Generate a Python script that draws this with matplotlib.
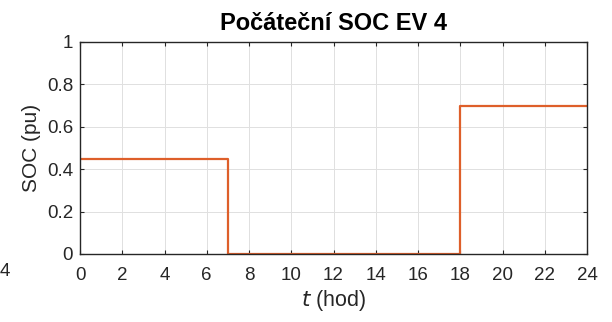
import matplotlib
matplotlib.use("Agg")
from matplotlib import pyplot as plt

# Data
t_edges = [0, 7, 18, 24]
soc_levels = [0.45, 0.0, 0.7]
x_ticks = list(range(0, 25, 2))
y_ticks = [0, 0.2, 0.4, 0.6, 0.8, 1]
y_tick_labels = ["0", "0.2", "0.4", "0.6", "0.8", "1"]

plt.rcParams['font.family'] = ['Liberation Sans', 'DejaVu Sans']

fig = plt.figure(figsize=(6.12, 3.22), dpi=100)
ax = fig.add_axes([80 / 612, 1 - 254 / 322, 507 / 612, 212 / 322])

ax.step(t_edges, soc_levels + [soc_levels[-1]], where='post',
        color='#DE5F2A', linewidth=1.6)

ax.set_xlim(0, 24)
ax.set_ylim(0, 1)
ax.set_xticks(x_ticks)
ax.set_yticks(y_ticks)
ax.set_yticklabels(y_tick_labels)
ax.tick_params(direction='in', top=True, right=True, labelsize=13.5,
               length=3, width=0.8, colors='#262626', pad=5)
ax.tick_params(axis='x', pad=9)
ax.grid(True, color='#e0e0e0', linewidth=0.7)
ax.set_axisbelow(True)
for s in ax.spines.values():
    s.set_color('#262626')
    s.set_linewidth(1.0)

ax.set_title('Počáteční SOC EV 4', fontsize=17, fontweight='bold', pad=9)
ax.set_xlabel('$t$ (hod)', fontsize=15.5, color='#262626', labelpad=3)
ax.set_ylabel('SOC (pu)', fontsize=15, color='#262626', labelpad=4)

# cropped tick label of the neighbouring panel
fig.text(0 / 612, 1 - 272 / 322, '4', fontsize=13.5, color='#262626',
         ha='left', va='center')

fig.savefig('out.png', dpi=100)
